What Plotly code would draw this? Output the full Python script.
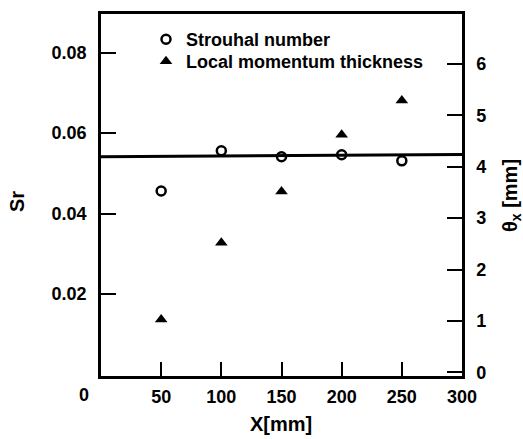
import plotly.graph_objects as go

# Streamwise positions of the measurement stations
x_mm = [50, 100, 150, 200, 250]
# Strouhal number at each station
strouhal = [0.0456, 0.0556, 0.0541, 0.0546, 0.0531]
# Local momentum thickness [mm]
theta_mm = [1.03, 2.52, 3.52, 4.62, 5.29]
# Reference level of the Strouhal number across the span
ref_x = [0, 300]
ref_sr = [0.0541, 0.0547]

x_ticks = [50, 100, 150, 200, 250, 300]
sr_ticks = [0.02, 0.04, 0.06, 0.08]
sr_tick_text = ["0.02", "0.04", "0.06", "0.08"]
theta_ticks = [0, 1, 2, 3, 4, 5, 6]

FONT = "Liberation Sans, Arial, Helvetica, sans-serif"
BLACK = "#000000"

W, H = 523, 439
M_L, M_R, M_T, M_B = 101, 61, 14, 63
plot_w = W - M_L - M_R
plot_h = H - M_T - M_B


def px_to_paper_x(px):
    return (px - M_L) / plot_w


def px_to_paper_y(py):
    return 1 - (py - M_T) / plot_h


fig = go.Figure()

fig.add_trace(go.Scatter(
    x=ref_x, y=ref_sr, mode="lines",
    line=dict(color=BLACK, width=3),
    showlegend=False, hoverinfo="skip",
))
fig.add_trace(go.Scatter(
    x=x_mm, y=strouhal, mode="markers", name="Strouhal number",
    legend="legend",
    marker=dict(symbol="circle-open", size=9, color=BLACK,
                line=dict(color=BLACK, width=2.5)),
))
fig.add_trace(go.Scatter(
    x=x_mm, y=theta_mm, mode="markers", name="Local momentum thickness",
    yaxis="y2", legend="legend2",
    marker=dict(symbol="triangle-up", size=11, color=BLACK),
))

tick_font = dict(family=FONT, size=18, color=BLACK, weight="bold")
legend_font = dict(family=FONT, size=18, color=BLACK, weight="bold")
title_font = dict(family=FONT, size=20, color=BLACK, weight="bold")

fig.update_layout(
    width=W, height=H,
    margin=dict(l=M_L, r=M_R, t=M_T, b=M_B),
    paper_bgcolor="white", plot_bgcolor="white",
    font=dict(family=FONT, color=BLACK),
    xaxis=dict(
        range=[0, 300], tickvals=x_ticks, ticks="inside", ticklen=14,
        tickwidth=2, tickcolor=BLACK, showline=True, mirror=True,
        linewidth=2.5, linecolor=BLACK, showgrid=False, zeroline=False,
        tickfont=tick_font, ticklabelstandoff=3,
    ),
    yaxis=dict(
        range=[-0.0004, 0.0896], tickvals=sr_ticks, ticktext=sr_tick_text,
        ticks="inside", ticklen=15, tickwidth=2, tickcolor=BLACK,
        showline=True, linewidth=2.5, linecolor=BLACK, showgrid=False,
        zeroline=False, tickfont=tick_font, ticklabelstandoff=8,
    ),
    yaxis2=dict(
        overlaying="y", side="right", range=[-0.07, 6.97],
        tickvals=theta_ticks, ticks="inside", ticklen=15, tickwidth=2,
        tickcolor=BLACK, showline=True, linewidth=2.5, linecolor=BLACK,
        showgrid=False, zeroline=False, tickfont=tick_font,
        ticklabelstandoff=8,
    ),
    legend=dict(
        x=px_to_paper_x(146), y=px_to_paper_y(21),
        xanchor="left", yanchor="top", font=legend_font,
        bgcolor="rgba(0,0,0,0)",
    ),
    legend2=dict(
        x=px_to_paper_x(146), y=px_to_paper_y(43),
        xanchor="left", yanchor="top", font=legend_font,
        bgcolor="rgba(0,0,0,0)",
    ),
    showlegend=True,
)

fig.add_annotation(text="X[mm]", x=px_to_paper_x(281), y=px_to_paper_y(424),
                   xref="paper", yref="paper", showarrow=False,
                   font=title_font, xanchor="center", yanchor="middle")
fig.add_annotation(text="Sr", x=px_to_paper_x(17), y=px_to_paper_y(202),
                   xref="paper", yref="paper", showarrow=False, textangle=-90,
                   font=title_font, xanchor="center", yanchor="middle")
fig.add_annotation(text="θ<sub>x</sub> [mm]", x=px_to_paper_x(511),
                   y=px_to_paper_y(196), xref="paper", yref="paper",
                   showarrow=False, textangle=-90, font=title_font,
                   xanchor="center", yanchor="middle")
# Origin label of the X axis, set off to the lower left of the corner
fig.add_annotation(text="0", x=px_to_paper_x(84), y=px_to_paper_y(395),
                   xref="paper", yref="paper", showarrow=False,
                   font=tick_font, xanchor="center", yanchor="middle")

fig.write_html("out.html")
